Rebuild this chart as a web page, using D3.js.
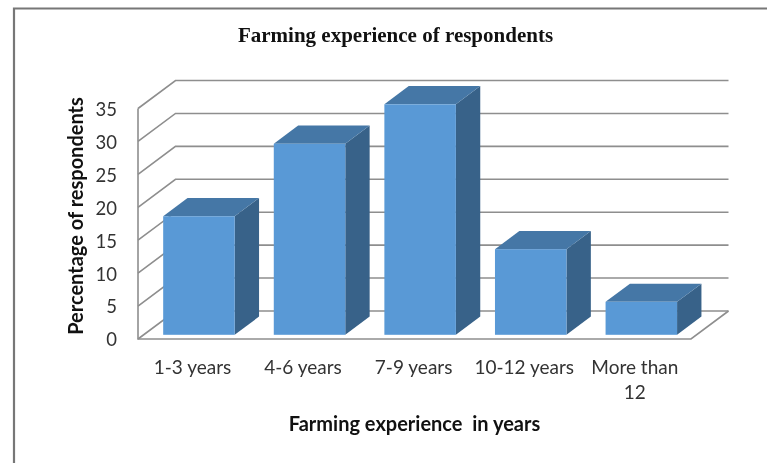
<!DOCTYPE html>
<html>
<head>
<meta charset="utf-8">
<title>Farming experience of respondents</title>
<script src="https://cdn.jsdelivr.net/npm/d3@7"></script>
<style>
body, html {
  margin: 0;
  background: #fff;
}
/* the reference is a slightly soft screenshot */
svg { display: block; filter: blur(0.4px); }
.tick text { font-family: Lato, "Open Sans", sans-serif; fill: #333; }
.grid { fill: none; stroke: #8e8e8e; stroke-width: 1.6px; }
</style>
</head>
<body>
<script>
var categories = ["1-3 years", "4-6 years", "7-9 years", "10-12 years", "More than 12"];
var percentages = [18, 29, 35, 13, 5];
var yTicks = [0, 5, 10, 15, 20, 25, 30, 35];

var width = 767, height = 463;

// front plane of the 3d box, and how far the back wall is shifted
var left = 138, right = 691, bottom = 339, top_ = 108.5;
var depthX = 37.5, depthY = -28;
// bars sit a little in from the front and take up part of the depth
var barStart = 0.15, barDepth = 0.65;

var svg = d3.select("body").append("svg")
  .attr("width", width)
  .attr("height", height);

// picture frame
svg.append("path")
  .attr("d", "M767,8.5H14V463")
  .attr("fill", "none")
  .attr("stroke", "#777")
  .attr("stroke-width", 2.2);

var x = d3.scaleBand()
  .domain(categories)
  .range([left, right])
  .paddingInner(0.3535)
  .paddingOuter(0.1768);

var y = d3.scaleLinear()
  .domain([0, 35])
  .range([bottom, top_]);

// walls
var grid = svg.append("g").attr("class", "grid");
grid.selectAll("path.line")
  .data(yTicks)
  .enter().append("path")
  .attr("class", "line")
  .attr("d", function(d) {
    return "M" + left + "," + y(d) +
      "L" + (left + depthX) + "," + (y(d) + depthY) +
      "H" + (right + depthX);
  });
grid.append("path")
  .attr("d", "M" + left + "," + y(35) + "V" + y(0) + "H" + right +
    "L" + (right + depthX) + "," + (y(0) + depthY));

// bars
var bars = svg.selectAll("g.bar")
  .data(categories)
  .enter().append("g")
  .attr("class", "bar")
  .attr("transform", "translate(" + (depthX * barStart) + "," + (depthY * barStart) + ")");

var dx = depthX * barDepth, dy = depthY * barDepth;

bars.append("path")
  .attr("fill", "#386289")
  .attr("d", function(d, i) {
    var x1 = x(d) + x.bandwidth(), yTop = y(percentages[i]);
    return "M" + x1 + "," + y(0) + "V" + yTop +
      "l" + dx + "," + dy + "V" + (y(0) + dy) + "Z";
  });

bars.append("path")
  .attr("fill", "#4577a6")
  .attr("d", function(d, i) {
    var yTop = y(percentages[i]);
    return "M" + x(d) + "," + yTop + "h" + x.bandwidth() +
      "l" + dx + "," + dy + "h" + (-x.bandwidth()) + "Z";
  });

bars.append("rect")
  .attr("fill", "#5999d6")
  .attr("x", function(d) { return x(d); })
  .attr("width", x.bandwidth())
  .attr("y", function(d, i) { return y(percentages[i]); })
  .attr("height", function(d, i) { return y(0) - y(percentages[i]); });

// axes
var yAxis = svg.append("g")
  .attr("transform", "translate(" + (left - 21) + ",1)")
  .call(d3.axisLeft(y).tickValues(yTicks).tickSize(0).tickPadding(0));
yAxis.select(".domain").remove();
yAxis.selectAll("text").style("font-size", "18.5px");

var xAxis = svg.append("g")
  .attr("transform", "translate(" + (depthX * barStart - 6.5) + ",360)")
  .call(d3.axisBottom(x).tickSize(0).tickPadding(0));
xAxis.select(".domain").remove();
xAxis.selectAll("text")
  .style("font-size", "19px")
  .each(function(d) {
    // the long label wraps on two lines
    if (d !== "More than 12") return;
    var t = d3.select(this).text(null);
    t.append("tspan").attr("x", 0).attr("dy", "0.71em").text("More than");
    t.append("tspan").attr("x", 0).attr("y", 0).attr("dy", "2.05em").text("12");
  });
xAxis.selectAll("text").attr("dy", function(d) {
  return d === "More than 12" ? null : "0.71em";
});

// titles
svg.append("text")
  .attr("x", 395.5)
  .attr("y", 42)
  .attr("text-anchor", "middle")
  .attr("font-family", "'Liberation Serif', serif")
  .attr("font-weight", "bold")
  .attr("font-size", 21)
  .attr("fill", "#111")
  .text("Farming experience of respondents");

svg.append("text")
  .attr("x", 414.5)
  .attr("y", 431)
  .attr("text-anchor", "middle")
  .attr("font-family", "Lato, sans-serif")
  .attr("font-weight", "bold")
  .attr("font-size", 20)
  .attr("fill", "#111")
  .attr("xml:space", "preserve")
  .text("Farming experience  in years");

svg.append("text")
  .attr("transform", "translate(83,216) rotate(-90)")
  .attr("text-anchor", "middle")
  .attr("font-family", "Lato, sans-serif")
  .attr("font-weight", "bold")
  .attr("font-size", 20)
  .attr("fill", "#111")
  .text("Percentage of respondents");
</script>
</body>
</html>
